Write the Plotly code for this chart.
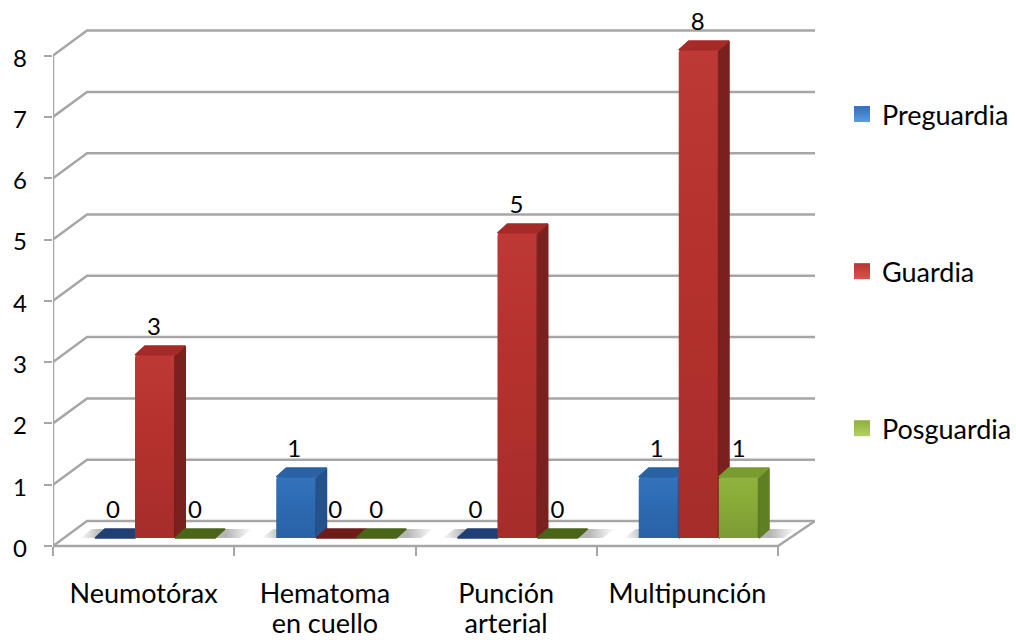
import plotly.graph_objects as go

categories_line1 = ["Neumotórax", "Hematoma", "Punción", "Multipunción"]
categories_line2 = ["", "en cuello", "arterial", ""]
series_names = ["Preguardia", "Guardia", "Posguardia"]
preguardia = [0, 1, 0, 1]
guardia = [3, 0, 5, 8]
posguardia = [0, 0, 0, 1]
y_ticks = [0, 1, 2, 3, 4, 5, 6, 7, 8]

FONT = "Lato"
FS = 27
FS_NUM = 24
GRID = "#A6A6A6"
PX_X = 181.25   # px per category
PX_Y = 61.3     # px per value on the walls
PX_YB = 61.0    # px per value on the bars
FRONT_L, FRONT_T = 53, 5
ZERO_PX = 546      # pixel row of value 0 on the front wall
PLOT_BOTTOM = 554  # plot area runs a little below the floor
DX, DY = 34 / PX_X, 25 / PX_Y
BX, BY = 10 / PX_X, 9 / PX_YB
BAR_W = 40 / PX_X
GROUP_START = 42 / PX_X
X_RANGE = [0, (815 - 53) / PX_X]
Y_RANGE = [(ZERO_PX - PLOT_BOTTOM) / PX_Y, (ZERO_PX - FRONT_T) / PX_Y]
YB_RANGE = [(538 - PLOT_BOTTOM) / PX_YB, (538 - FRONT_T) / PX_YB]
LABEL_SHIFT = 2.5 / PX_Y
YL_RANGE = [Y_RANGE[0] + LABEL_SHIFT, Y_RANGE[1] + LABEL_SHIFT]
plot_w = 815 - FRONT_L
plot_h = PLOT_BOTTOM - FRONT_T
AXIS_POS = (PLOT_BOTTOM - ZERO_PX) / plot_h

styles = [
    dict(front="#2F6EBA", side="#24528C", top="#2A62A6", zero="#1F3F75", lab=(-2), grad="#5C9AE0"),
    dict(front="#BC332F", side="#7A211F", top="#A62A28", zero="#6E1C1A", lab=(-1), grad="#D9534F"),
    dict(front="#8DB03A", side="#5F7F25", top="#7A9C2F", zero="#4A6418", lab=(0), grad="#B5D165"),
]
values = [preguardia, guardia, posguardia]
n_cat = len(categories_line1)

fig = go.Figure()

# walls and floor
gx, gy = [], []
for v in y_ticks:
    gx += [0, DX, X_RANGE[1], None]
    gy += [v, v + DY, v + DY, None]
gx += [0, 0, None, 0, 4, X_RANGE[1]]
gy += [y_ticks[0], y_ticks[-1], None, 0, 0, DY]
fig.add_trace(go.Scatter(x=gx, y=gy, mode="lines", line=dict(color=GRID, width=2.5),
                         showlegend=False, hoverinfo="skip", cliponaxis=False))

# floor shadows
for i in range(n_cat):
    x0, x1 = i + 27 / PX_X, i + 187 / PX_X
    fig.add_trace(go.Scatter(
        x=[x0, x1, x1 + 12 / PX_X, x0 + 12 / PX_X, x0],
        y=[8 / PX_Y, 8 / PX_Y, 17 / PX_Y, 17 / PX_Y, 8 / PX_Y],
        mode="none", fill="toself", showlegend=False, hoverinfo="skip",
        fillgradient=dict(type="horizontal", colorscale=[
            [0, "rgba(150,150,150,0)"], [0.12, "rgba(150,150,150,0.7)"],
            [0.85, "rgba(150,150,150,0.7)"], [1, "rgba(150,150,150,0)"]])))

# one overlaid axis pair per series so that later series hide earlier ones
for j, (name, vals, st) in enumerate(zip(series_names, values, styles)):
    ax = str(j + 2)
    xa, ya = "x" + ax, "y" + ax
    lefts = [i + GROUP_START + j * BAR_W for i in range(n_cat)]
    centers = [l + BAR_W / 2 for l in lefts]
    fig.add_trace(go.Bar(x=centers, y=vals, width=BAR_W, name=name, marker_color=st["front"],
                         marker_line_width=0, showlegend=False, xaxis=xa, yaxis=ya))
    for l, v in zip(lefts, vals):
        r = l + BAR_W
        if v > 0:
            fig.add_trace(go.Scatter(
                x=[r, r + BX, r + BX, r, r], y=[0, BY, v + BY, v, 0], mode="lines", fill="toself",
                fillcolor=st["side"], line=dict(color=st["side"], width=2),
                showlegend=False, hoverinfo="skip", xaxis=xa, yaxis=ya))
        color = st["top"] if v > 0 else st["zero"]
        fig.add_trace(go.Scatter(
            x=[l, r, r + BX, l + BX, l], y=[v, v, v + BY, v + BY, v], mode="lines", fill="toself",
            fillcolor=color, line=dict(color=color, width=1.5), showlegend=False, hoverinfo="skip",
            xaxis=xa, yaxis=ya))
        if v > 0:
            fig.add_trace(go.Scatter(
                x=[l, r, r, l, l], y=[0, 0, v, v, 0], mode="none", fill="toself",
                showlegend=False, hoverinfo="skip", xaxis=xa, yaxis=ya,
                fillgradient=dict(type="vertical", colorscale=[
                    [0, "rgba(0,0,0,0.12)"], [0.6, "rgba(0,0,0,0.03)"], [1, "rgba(255,255,255,0.03)"]])))
    fig.add_trace(go.Scatter(
        x=[c + st["lab"] / PX_X for c in centers], y=[v + 26 / PX_YB for v in vals],
        mode="text", text=[str(v) for v in vals], textposition="middle center",
        textfont=dict(family=FONT, size=FS_NUM, color="#000000"),
        showlegend=False, hoverinfo="skip", cliponaxis=False, xaxis=xa, yaxis=ya))
    # legend entry
    fig.add_trace(go.Scatter(
        x=[None], y=[None], mode="markers", name=name, legendgroup=name,
        marker=dict(symbol="square", size=18, color=st["front"],
                    gradient=dict(type="vertical", color=st["grad"]),
                    line=dict(width=0)), xaxis=xa, yaxis=ya))

# carrier for the value-axis labels
fig.add_trace(go.Scatter(x=[None], y=[None], mode="markers", showlegend=False,
                         hoverinfo="skip", xaxis="x", yaxis="y5"))

centers_all = [i + 0.5 for i in range(n_cat)]
hidden = dict(range=X_RANGE, overlaying="x", showgrid=False, zeroline=False, showline=False, ticks="",
              anchor="free", position=AXIS_POS)
hidden_y = dict(range=YB_RANGE, overlaying="y", showgrid=False, zeroline=False, showline=False,
                showticklabels=False, ticks="")
label_font = dict(family=FONT, size=FS, color="#000000")

fig.update_layout(
    width=1016, height=640, paper_bgcolor="white", plot_bgcolor="white",
    margin=dict(l=FRONT_L, r=1016 - 815, t=FRONT_T, b=640 - PLOT_BOTTOM, autoexpand=False),
    barmode="overlay",
    barcornerradius=3,
    font=dict(family=FONT, size=FS, color="#000000"),
    legend=dict(x=(842 - FRONT_L) / plot_w, y=(PLOT_BOTTOM - 90) / plot_h, xanchor="left", yanchor="top",
                font=dict(family=FONT, size=FS), tracegroupgap=119, itemwidth=30,
                bgcolor="rgba(0,0,0,0)"),
    xaxis=dict(range=X_RANGE, tickvals=list(range(n_cat + 1)), showticklabels=False, ticks="outside",
               ticklen=9, tickwidth=1.5, tickcolor=GRID, showgrid=False, zeroline=False, showline=False,
               anchor="free", position=AXIS_POS),
    yaxis=dict(range=Y_RANGE, tickvals=y_ticks, showticklabels=False, ticks="outside",
               ticklen=8, tickwidth=1.5, tickcolor=GRID, showgrid=False, zeroline=False, showline=False),
    yaxis5=dict(range=YL_RANGE, overlaying="y", anchor="x", side="left", tickvals=y_ticks,
                ticktext=[str(t) for t in y_ticks], ticks="", showgrid=False, zeroline=False,
                showline=False, tickfont=dict(family=FONT, size=FS_NUM, color="#000000"),
                ticklabelstandoff=25),
    xaxis2=dict(hidden, tickvals=centers_all, ticktext=categories_line1, tickfont=label_font,
                ticklen=0, ticklabelstandoff=29),
    xaxis3=dict(hidden, tickvals=centers_all, ticktext=categories_line2, tickfont=label_font,
                ticklen=0, ticklabelstandoff=59),
    xaxis4=dict(hidden, showticklabels=False),
    yaxis2=hidden_y, yaxis3=hidden_y, yaxis4=hidden_y,
)

fig.write_html("out.html", config={"displayModeBar": False},
               post_script="document.body.style.margin='0';")
